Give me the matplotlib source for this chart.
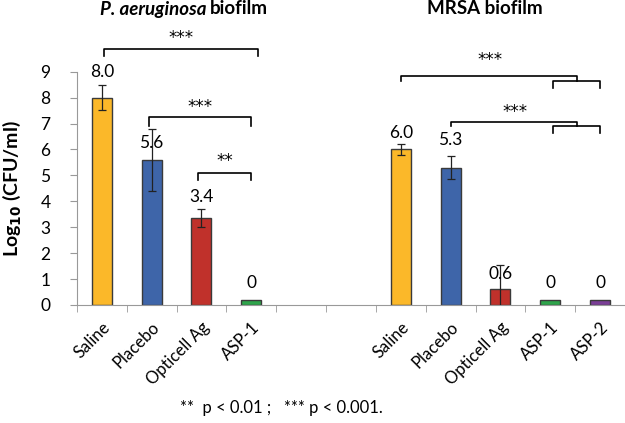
import matplotlib
matplotlib.use("Agg")
import matplotlib.pyplot as plt
import numpy as np

plt.rcParams["font.family"] = ["Lato", "DejaVu Sans"]

# ── データ ────────────────────────────────────────────────────────────────
categories = ["Saline", "Placebo", "Opticell Ag", "ASP-1", "", "",
              "Saline", "Placebo", "Opticell Ag", "ASP-1", "ASP-2"]
values = [8.0, 5.6, 3.35, 0.2, np.nan, np.nan, 6.0, 5.3, 0.6, 0.2, 0.2]
errors = [0.47, 1.2, 0.35, 0, 0, 0, 0.2, 0.45, 0.95, 0, 0]
value_labels = ["8.0", "5.6", "3.4", "0", "", "", "6.0", "5.3", "0.6", "0", "0"]
yticks = list(range(0, 10))

colors = ["#FBB829", "#3E65A9", "#C0312B", "#2EA44B", "w", "w",
          "#FBB829", "#3E65A9", "#C0312B", "#2EA44B", "#7A3E96"]
label_offset = [1.0, 0.65, 0.82, 0.65, 0, 0, 0.64, 1.07, 0.6, 0.65, 0.65]

fig = plt.figure(figsize=(6.25, 4.23), dpi=100)
ax = fig.add_axes([0.123, 0.279, 0.877, 0.5515])

x = np.arange(len(categories))
for i in x:
    if np.isnan(values[i]):
        continue
    ax.bar(i, values[i], width=0.4, color=colors[i], edgecolor="#3a3a3a",
           linewidth=1.0, zorder=2)
    if errors[i] > 0:
        ax.errorbar(i, values[i], yerr=errors[i], color="#222222",
                    elinewidth=0.9, capsize=3, capthick=0.9, zorder=3)
    ax.text(i, values[i] + label_offset[i], value_labels[i], ha="center",
            va="center", fontsize=12.5, zorder=4)

ax.set_xlim(-0.5, 10.5)
ax.set_ylim(0, 9)
ax.set_yticks(yticks)
ax.tick_params(axis="y", labelsize=12.5, length=5, color="#999999", pad=14)
ax.set_xticks(x)
ax.set_xticklabels(categories, rotation=45, ha="right",
                   rotation_mode="anchor", fontsize=12)
ax.tick_params(axis="x", length=0, pad=10)
ax.set_xticks(np.arange(-0.5, 11, 1), minor=True)
ax.tick_params(axis="x", which="minor", length=5, color="#999999")
for s in ["top", "right"]:
    ax.spines[s].set_visible(False)
for s in ["left", "bottom"]:
    ax.spines[s].set_color("#999999")

ax.set_ylabel(r"Log$_{\mathbf{10}}$ (CFU/ml)", fontsize=14, fontweight="bold")
ax.yaxis.set_label_coords(-0.098, 0.5)


def bracket(x1, x2, y, h, lw=1.2):
    ax.plot([x1, x1, x2, x2], [y - h, y, y, y - h], color="black",
            lw=lw, clip_on=False, zorder=5)


def stars(xc, y, s):
    ax.text(xc, y, s, ha="center", va="center", fontsize=12,
            family="DejaVu Sans", clip_on=False)


# P. aeruginosa
bracket(0.04, 3.13, 9.88, 0.28)
stars(1.58, 10.3, "***")
bracket(0.95, 3.0, 7.26, 0.36)
stars(1.97, 7.65, "***")
bracket(1.93, 3.0, 5.1, 0.27)
stars(2.47, 5.55, "**")

# MRSA
ax.plot([6.0, 6.0, 9.53, 9.53], [8.65, 8.84, 8.84, 8.65], color="black",
        lw=1.2, clip_on=False)
bracket(9.06, 10.0, 8.65, 0.27)
stars(7.8, 9.45, "***")
ax.plot([7.0, 7.0, 9.53, 9.53], [6.9, 7.07, 7.07, 6.9], color="black",
        lw=1.2, clip_on=False)
bracket(9.06, 10.0, 6.9, 0.26)
stars(8.3, 7.45, "***")

fig.text(206 / 625, 1 - 9 / 423, "P. aeruginosa", ha="right", va="center",
         fontsize=13.5, fontweight="bold", style="italic")
fig.text(210 / 625, 1 - 9 / 423, "biofilm", ha="left", va="center",
         fontsize=13.5, fontweight="bold")
fig.text(485 / 625, 1 - 9 / 423, "MRSA biofilm", ha="center", va="center",
         fontsize=13.5, fontweight="bold")

fig.text(281 / 625, 1 - 408 / 423, "**  p < 0.01 ;   *** p < 0.001.",
         ha="center", va="center", fontsize=12)

fig.savefig("out.png", dpi=100)
